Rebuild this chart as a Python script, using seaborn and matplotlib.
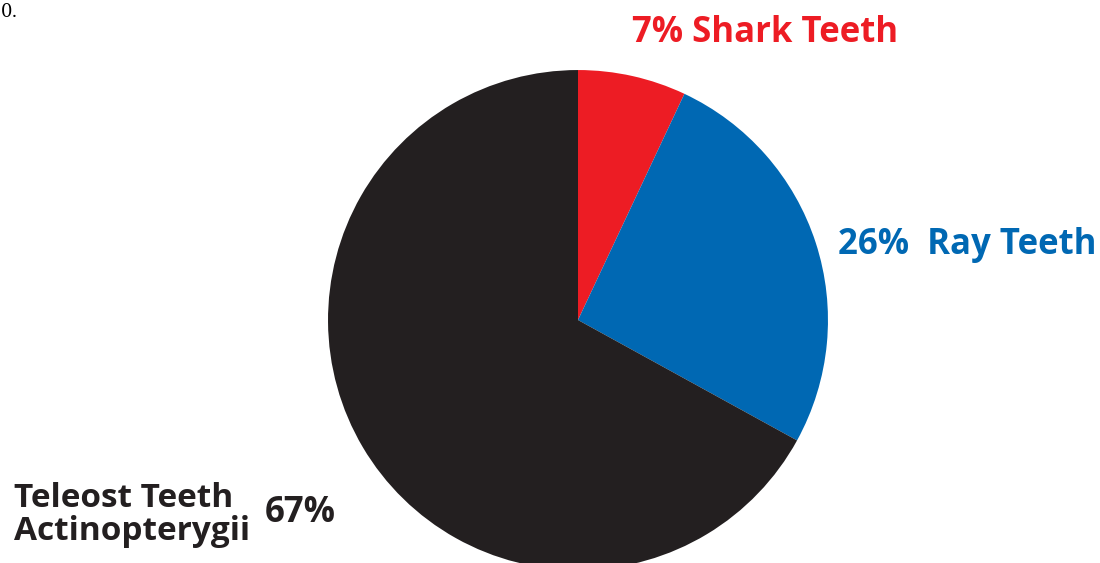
import seaborn as sns
import matplotlib.pyplot as plt

# tooth counts by group, in percent
groups = ['Shark Teeth', 'Ray Teeth', 'Teleost Teeth\nActinopterygii']
shares = [7, 26, 67]
colours = ['#ED1C24', '#0068B3', '#231F20']

sns.set_theme(style='white')
plt.rcParams['font.family'] = ['Open Sans', 'DejaVu Sans']

fig = plt.figure(figsize=(11, 5.63), dpi=100)
# pie axes placed so the circle sits where the original does (bottom slightly cut)
ax = fig.add_axes([0.2982, -0.0124, 0.4545, 0.888])
ax.pie(shares, colors=colours, startangle=90, counterclock=False,
       wedgeprops=dict(linewidth=0))
ax.set_xlim(-1, 1)
ax.set_ylim(-1, 1)
ax.set_aspect('auto')
ax.axis('off')

fs = 25
fig.text(0.575, 1 - 33 / 563, str(shares[0]) + '% ' + groups[0], color=colours[0],
         fontsize=fs, fontweight='bold', ha='left', va='center')
fig.text(0.762, 1 - 245 / 563, str(shares[1]) + '%  ' + groups[1], color=colours[1],
         fontsize=fs, fontweight='bold', ha='left', va='center')
fig.text(0.013, 1 - 515 / 563, groups[2], color=colours[2], fontsize=24,
         fontweight='bold', ha='left', va='center', linespacing=1.0)
fig.text(0.241, 1 - 513 / 563, str(shares[2]) + '%', color=colours[2],
         fontsize=fs, fontweight='bold', ha='left', va='center')

# stray fragment in the top-left corner of the original
fig.text(0.001, 1 - 12 / 563, '0.', fontsize=13, family='DejaVu Serif',
         color='black', ha='left', va='center')

fig.savefig('out.png', dpi=100)
